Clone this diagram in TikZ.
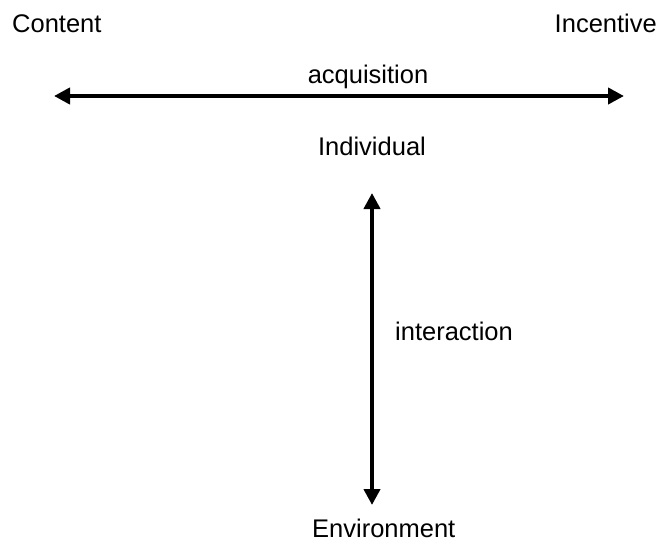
\documentclass[tikz,border=0pt]{standalone}
\usepackage{fontspec}
\setmainfont{Liberation Sans}
\usetikzlibrary{arrows.meta}
\begin{document}
\begin{tikzpicture}[x=1pt,y=1pt,
  lbl/.style={inner sep=0pt, font=\fontsize{25.5}{30}\selectfont},
  dbl/.style={line width=4pt, {Triangle[length=16pt,width=16pt]}-{Triangle[length=16pt,width=16pt]}}]
\useasboundingbox (0,0) rectangle (664,-541);
\node[lbl, anchor=base west] (content) at (12,-32) {Content};
\node[lbl, anchor=base east] (incentive) at (657,-32) {Incentive};
\node[lbl, anchor=base] (acq) at (368,-83) {acquisition};
\node[lbl, anchor=base] (indiv) at (372,-155) {Individual};
\node[lbl, anchor=base west] (inter) at (395,-340) {interaction};
\node[lbl, anchor=base west] (env) at (312,-537) {Environment};
\coordinate (hl) at (54,-96);
\coordinate (hr) at (624,-96);
\coordinate (vt) at (372,-193);
\coordinate (vb) at (372,-505);
\draw[dbl] (hl) -- (hr);
\draw[dbl] (vt) -- (vb);
\end{tikzpicture}
\end{document}
